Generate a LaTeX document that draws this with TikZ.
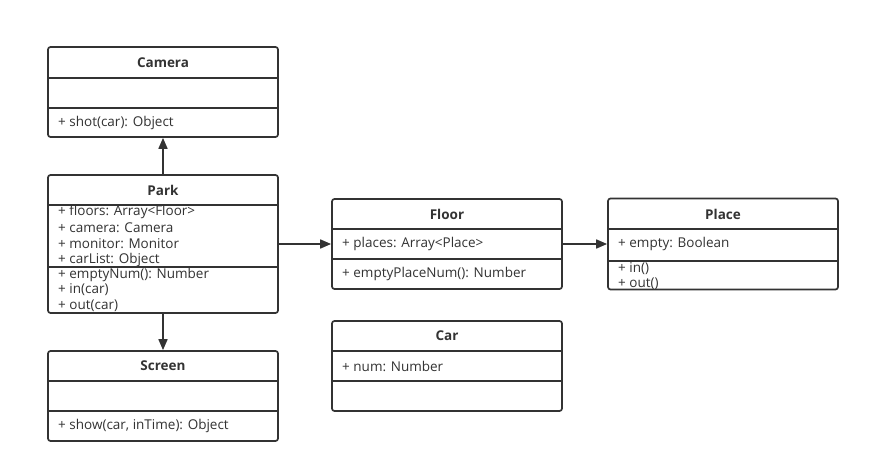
\documentclass[tikz,border=0pt]{standalone}
\usepackage{fontspec}
\setmainfont{Open Sans}
\usetikzlibrary{arrows.meta}
\definecolor{ink}{HTML}{333333}
\begin{document}
\begin{tikzpicture}[x=1pt,y=-1pt,
  box/.style={draw=ink, line width=1.7pt, rounded corners=2.5pt, minimum width=230pt, inner sep=0pt, fill=white},
  sep/.style={draw=ink, line width=1.7pt},
  ttl/.style={font=\fontsize{13.5pt}{15pt}\selectfont\bfseries, text=ink, anchor=center, inner sep=0pt},
  mem/.style={font=\fontsize{13.5pt}{15pt}\selectfont, text=ink, anchor=west, inner sep=0pt},
  conn/.style={draw=ink, line width=1.7pt, -{Triangle[length=11pt,width=9pt]}}
]
\useasboundingbox (0,0) rectangle (870,473);
% Camera
\node[box, minimum height=90pt] (camera) at (163,92) {};
\draw[sep] (48,78) -- (278,78);
\draw[sep] (48,108) -- (278,108);
\node[ttl] (cameraT) at (163,63) {Camera};
\node[mem] (cameraM1) at (58,123) {+ shot(car): Object};
% Park
\node[box, minimum height=138pt] (park) at (163,244) {};
\draw[sep] (48,205) -- (278,205);
\draw[sep] (48,267) -- (278,267);
\node[ttl] (parkT) at (163,190) {Park};
\node[mem] (parkA1) at (58,212) {+ floors: Array<Floor>};
\node[mem] (parkA2) at (58,228) {+ camera: Camera};
\node[mem] (parkA3) at (58,244) {+ monitor: Monitor};
\node[mem] (parkA4) at (58,260) {+ carList: Object};
\node[mem] (parkM1) at (58,275) {+ emptyNum(): Number};
\node[mem] (parkM2) at (58,290) {+ in(car)};
\node[mem] (parkM3) at (58,306) {+ out(car)};
% Screen
\node[box, minimum height=90pt] (screen) at (163,396) {};
\draw[sep] (48,381) -- (278,381);
\draw[sep] (48,411) -- (278,411);
\node[ttl] (screenT) at (163,366) {Screen};
\node[mem] (screenM1) at (58,426) {+ show(car, inTime): Object};
% Floor
\node[box, minimum height=90pt] (floor) at (447,244) {};
\draw[sep] (332,229) -- (562,229);
\draw[sep] (332,259) -- (562,259);
\node[ttl] (floorT) at (447,214) {Floor};
\node[mem] (floorA1) at (342,244) {+ places: Array<Place>};
\node[mem] (floorM1) at (342,274) {+ emptyPlaceNum(): Number};
% Place
\node[box, minimum height=91pt] (place) at (723,244) {};
\draw[sep] (608,229) -- (838,229);
\draw[sep] (608,261) -- (838,261);
\node[ttl] (placeT) at (723,214) {Place};
\node[mem] (placeA1) at (618,244) {+ empty: Boolean};
\node[mem] (placeM1) at (618,269) {+ in()};
\node[mem] (placeM2) at (618,284) {+ out()};
% Car
\node[box, minimum height=90pt] (car) at (447,366) {};
\draw[sep] (332,351) -- (562,351);
\draw[sep] (332,381) -- (562,381);
\node[ttl] (carT) at (447,336) {Car};
\node[mem] (carA1) at (342,366) {+ num: Number};
% connectors
\draw[conn] (park.north) -- (camera.south);
\draw[conn] (park.south) -- (screen.north);
\draw[conn] (park.east) -- (floor.west);
\draw[conn] (floor.east) -- (place.west);
\end{tikzpicture}
\end{document}
